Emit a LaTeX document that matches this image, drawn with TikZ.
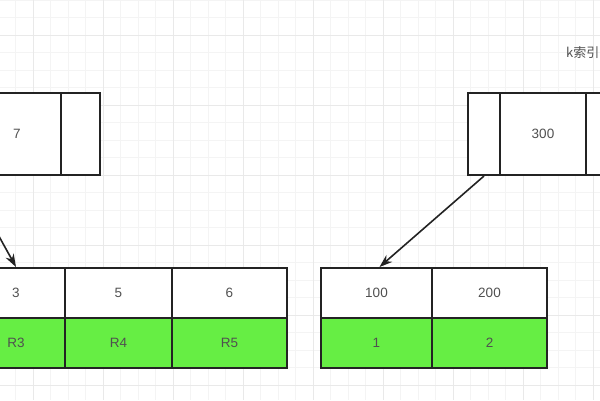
\documentclass[tikz,border=0pt]{standalone}
\usepackage{fontspec}
\setmainfont{Liberation Sans}
\newfontfamily\cjk{Noto Sans CJK SC}
\usetikzlibrary{arrows.meta}
\definecolor{cellgreen}{RGB}{102,238,68}
\definecolor{txt}{RGB}{80,80,80}
\definecolor{edgec}{RGB}{35,35,35}
\begin{document}
\begin{tikzpicture}[x=1pt,y=-1pt,
  cell/.style={draw=edgec, line width=2pt, rectangle, inner sep=0pt, text=txt, font=\fontsize{13.5}{16}\selectfont},
  keycell/.style={cell, fill=white},
  datacell/.style={cell, fill=cellgreen},
  link/.style={draw=edgec, line width=1.6pt, -{Stealth[length=13pt,width=9pt]}},
  minorgrid/.style={draw=gray!9, line width=0.6pt},
  majorgrid/.style={draw=gray!17, line width=0.8pt}]
\useasboundingbox (0,0) rectangle (600,400);
\clip (0,0) rectangle (600,400);
\fill[white] (0,0) rectangle (600,400);
% grid
\foreach \i in {0,...,36} { \draw[minorgrid] ({\i*17.5-2},0) -- ++(0,400); }
\foreach \i in {0,...,24} { \draw[minorgrid] (0,{\i*17.5-0}) -- ++(600,0); }
\foreach \i in {0,...,9} { \draw[majorgrid] ({\i*70-37},0) -- ++(0,400); }
\foreach \i in {0,...,6} { \draw[majorgrid] (0,{\i*70-35}) -- ++(600,0); }
% top-left node
\node[keycell, minimum width=88pt, minimum height=82pt] (tl7) at (17,134) {7};
\node[keycell, minimum width=39pt, minimum height=82pt] (tlp) at (80.5,134) {};
% top-right node
\node[keycell, minimum width=32pt, minimum height=82pt] (trp1) at (484,134) {};
\node[keycell, minimum width=86pt, minimum height=82pt] (tr300) at (543,134) {300};
\node[keycell, minimum width=32pt, minimum height=82pt] (trp2) at (602,134) {};
% label
\node[text=txt, font=\cjk\fontsize{13}{15}\selectfont, anchor=west, inner sep=0pt] (lbl) at (566,53) {k索引};
% bottom-left leaf
\node[keycell, minimum width=98pt, minimum height=50pt] (b3) at (16,293) {3};
\node[keycell, minimum width=107pt, minimum height=50pt] (b5) at (118.5,293) {5};
\node[keycell, minimum width=115pt, minimum height=50pt] (b6) at (229.5,293) {6};
\node[datacell, minimum width=98pt, minimum height=50pt] (r3) at (16,343) {R3};
\node[datacell, minimum width=107pt, minimum height=50pt] (r4) at (118.5,343) {R4};
\node[datacell, minimum width=115pt, minimum height=50pt] (r5) at (229.5,343) {R5};
% bottom-right leaf
\node[keycell, minimum width=111pt, minimum height=50pt] (b100) at (376.5,293) {100};
\node[keycell, minimum width=115pt, minimum height=50pt] (b200) at (489.5,293) {200};
\node[datacell, minimum width=111pt, minimum height=50pt] (d1) at (376.5,343) {1};
\node[datacell, minimum width=115pt, minimum height=50pt] (d2) at (489.5,343) {2};
% connectors
\coordinate (s1) at (-35,175);
\draw[link] (s1) -- (b3.north);
\draw[link] (trp1.south) -- ([xshift=3pt]b100.north);
\end{tikzpicture}
\end{document}
